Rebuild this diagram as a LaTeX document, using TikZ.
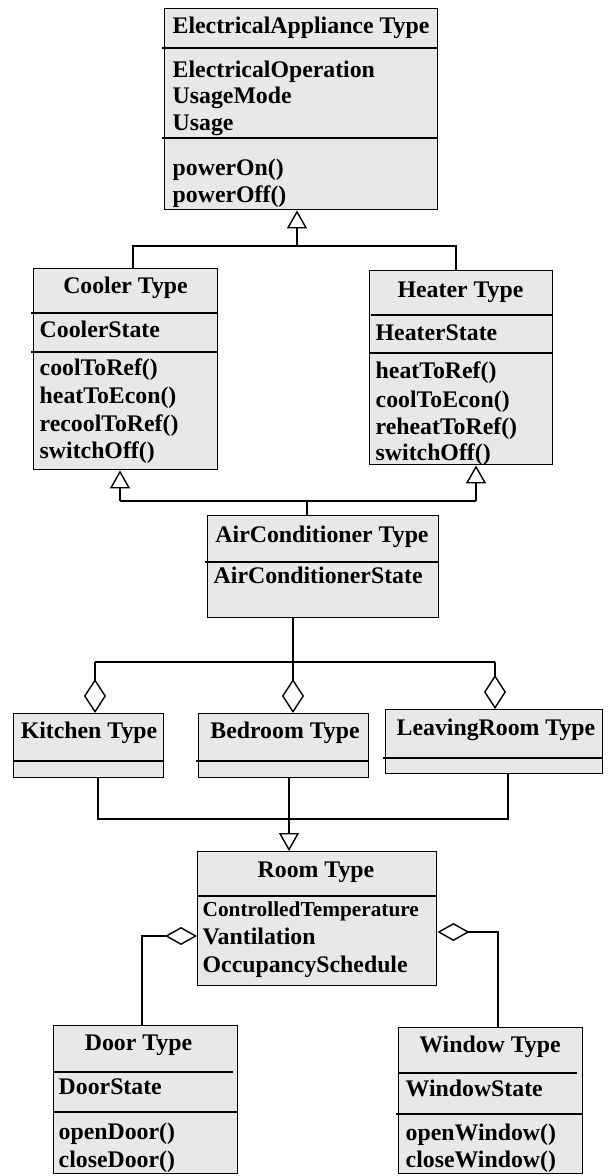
\documentclass[tikz,border=0pt]{standalone}
\usepackage{fontspec}
\setmainfont{Liberation Serif}
\usetikzlibrary{arrows.meta}
\definecolor{boxfill}{RGB}{232,232,232}
\begin{document}
\begin{tikzpicture}[x=1pt,y=-1pt,line width=1.4pt,
  umlbox/.style={draw,fill=boxfill,rectangle,inner sep=0pt,anchor=north west},
  txt/.style={font=\fontsize{23.8}{27}\selectfont\bfseries,inner sep=0pt,anchor=base west},
  smalltxt/.style={font=\fontsize{21.3}{24}\selectfont\bfseries,inner sep=0pt,anchor=base west},
  ttl/.style={font=\fontsize{23.8}{27}\selectfont\bfseries,inner sep=0pt,anchor=base},
  gen/.style={-{Triangle[open,length=18pt,width=20pt]}},
  agg/.style={-{Diamond[open,length=34pt,width=22pt]}},
  aggs/.style={-{Diamond[open,length=32pt,width=18pt]}}]
\useasboundingbox (0,0) rectangle (608,1176);

% ---- boxes
\node[umlbox,minimum width=273pt,minimum height=201pt] (ea) at (164,8) {};
\node[umlbox,minimum width=184pt,minimum height=201pt] (cooler) at (33,268) {};
\node[umlbox,minimum width=183pt,minimum height=194pt] (heater) at (369,270) {};
\node[umlbox,minimum width=231pt,minimum height=102pt] (ac) at (207,515) {};
\node[umlbox,minimum width=150pt,minimum height=64pt] (kitchen) at (13,713) {};
\node[umlbox,minimum width=170pt,minimum height=64pt] (bedroom) at (198,713) {};
\node[umlbox,minimum width=217pt,minimum height=64pt] (leaving) at (385,709) {};
\node[umlbox,minimum width=239pt,minimum height=134pt] (room) at (197,851) {};
\node[umlbox,minimum width=184pt,minimum height=148pt] (door) at (53,1025) {};
\node[umlbox,minimum width=184pt,minimum height=146pt] (window) at (398,1027) {};

% ---- compartment lines
\draw (162,48) -- (437,48);
\draw (162,138) -- (437,138);
\draw (31,313) -- (217,313);
\draw (31,352) -- (217,352);
\draw (371,315) -- (552,315);
\draw (369,353) -- (552,353);
\draw (205,562) -- (438,562);
\draw (13,761) -- (163,761);
\draw (196,761) -- (368,761);
\draw (383,758) -- (602,758);
\draw (197,896) -- (436,896);
\draw (53,1072) -- (233,1072);
\draw (53,1112) -- (237,1112);
\draw (398,1073) -- (577,1073);
\draw (396,1114) -- (582,1114);

% ---- texts
\node[ttl] (eat) at (301,33) {ElectricalAppliance Type};
\node[txt] (ea1) at (172,77) {ElectricalOperation};
\node[txt] (ea2) at (172,103) {UsageMode};
\node[txt] (ea3) at (172,130) {Usage};
\node[txt] (ea4) at (172,175) {powerOn()};
\node[txt] (ea5) at (172,202) {powerOff()};

\node[ttl] (cot) at (125.5,293) {Cooler Type};
\node[txt] (co1) at (39,337) {CoolerState};
\node[txt] (co2) at (39,375) {coolToRef()};
\node[txt] (co3) at (39,403) {heatToEcon()};
\node[txt] (co4) at (39,431) {recoolToRef()};
\node[txt] (co5) at (39,458) {switchOff()};

\node[ttl] (het) at (460.5,297) {Heater Type};
\node[txt] (he1) at (375,340) {HeaterState};
\node[txt] (he2) at (375,378) {heatToRef()};
\node[txt] (he3) at (375,407) {coolToEcon()};
\node[txt] (he4) at (375,434) {reheatToRef()};
\node[txt] (he5) at (375,460) {switchOff()};

\node[ttl] (act) at (322,542) {AirConditioner Type};
\node[txt] (ac1) at (213,583) {AirConditionerState};

\node[ttl] (kit) at (89,738) {Kitchen Type};
\node[ttl] (bet) at (285,738) {Bedroom Type};
\node[ttl] (lrt) at (496,735) {LeavingRoom Type};

\node[ttl] (rot) at (316,877) {Room Type};
\node[smalltxt] (ro1) at (202,916) {ControlledTemperature};
\node[txt] (ro2) at (202,944) {Vantilation};
\node[txt] (ro3) at (202,972) {OccupancySchedule};

\node[ttl] (dot) at (138.5,1050) {Door Type};
\node[txt] (do1) at (58,1094) {DoorState};
\node[txt] (do2) at (58,1139) {openDoor()};
\node[txt] (do3) at (58,1167) {closeDoor()};

\node[ttl] (wit) at (490,1052) {Window Type};
\node[txt] (wi1) at (405,1096) {WindowState};
\node[txt] (wi2) at (405,1140) {openWindow()};
\node[txt] (wi3) at (405,1167) {closeWindow()};

% ---- connectors
\coordinate (t1) at (297,246);
\coordinate (tl) at (133,246);
\coordinate (tr) at (456,246);
\draw (tl |- cooler.north) -- (tl) -- (tr) -- (tr |- heater.north);
\draw[gen] (t1) -- (t1 |- ea.south);

\coordinate (m1) at (307,501);
\coordinate (ml) at (120,501);
\coordinate (mr) at (476,501);
\draw (ac.north -| m1) -- (m1);
\draw (ml) -- (mr);
\draw[gen] (ml) -- (ml |- cooler.south);
\draw[gen] (mr) -- (mr |- heater.south);

\coordinate (a1) at (95,662);
\coordinate (a2) at (293,662);
\coordinate (a3) at (495,662);
\draw (a1) -- (a3);
\draw[agg] (ac.south -| a2) -- (a2 |- bedroom.north);
\draw[agg] (a1) -- (a1 |- kitchen.north);
\draw[agg] (a3) -- (a3 |- leaving.north);

\coordinate (b1) at (98,819);
\coordinate (b2) at (289,819);
\coordinate (b3) at (508,819);
\draw (kitchen.south -| b1) -- (b1) -- (b3) -- (b3 |- leaving.south);
\draw[gen] (bedroom.south -| b2) -- (b2 |- room.north);

\coordinate (d1) at (142,936);
\draw[aggs] (d1 |- door.north) -- (d1) -- (room.west |- d1);
\coordinate (w1) at (498,932);
\draw[aggs] (w1 |- window.north) -- (w1) -- (room.east |- w1);
\end{tikzpicture}
\end{document}
